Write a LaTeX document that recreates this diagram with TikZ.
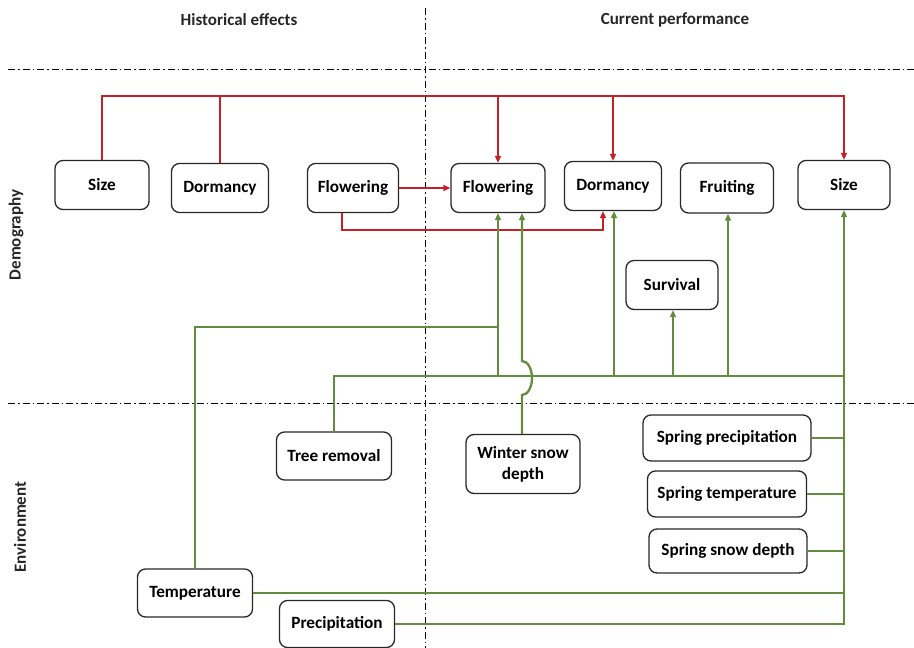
\documentclass[tikz,border=0pt]{standalone}
\usepackage{fontspec}
\setmainfont{Carlito}
\usetikzlibrary{arrows.meta,calc}
\definecolor{rline}{RGB}{196,32,38}
\definecolor{gline}{RGB}{100,140,62}
\definecolor{bord}{RGB}{40,40,40}
\tikzset{
  box/.style={draw=bord,line width=1.3pt,rounded corners=8pt,align=center,font=\bfseries\fontsize{17.2}{21}\selectfont,inner sep=2pt},
  hdr/.style={font=\bfseries\fontsize{17}{19}\selectfont,text=black!85},
  rl/.style={draw=rline,line width=2.6pt},
  gl/.style={draw=gline,line width=2.3pt},
  rarr/.style={rl,-{Triangle[length=7pt,width=6pt]}},
  garr/.style={gl,-{Triangle[length=7pt,width=6pt]}},
  dd/.style={line width=1pt,dash pattern=on 7pt off 3pt on 1.5pt off 3pt},
}
\begin{document}
\begin{tikzpicture}[x=1pt,y=-1pt]
\useasboundingbox (0,0) rectangle (914,648);
% guide lines
\draw[dd] (425,8) -- (425,648);
\draw[dd] (8,69) -- (914,69);
\draw[dd] (8,403) -- (914,403);
% headers
\node[hdr] (hh) at (239,20) {Historical effects};
\node[hdr] (hc) at (675,20) {Current performance};
\node[hdr,rotate=90] (hd) at (16,235) {Demography};
\node[hdr,rotate=90] (he) at (20,527) {Environment};
% demography nodes
\node[box,minimum width=94pt,minimum height=49pt] (sizeL) at (102,185) {Size};
\node[box,minimum width=97pt,minimum height=49pt] (dormL) at (220,188) {Dormancy};
\node[box,minimum width=91pt,minimum height=49pt] (flowL) at (353,188) {Flowering};
\node[box,minimum width=94pt,minimum height=49pt] (flowR) at (498,188) {Flowering};
\node[box,minimum width=97pt,minimum height=49pt] (dormR) at (613,186) {Dormancy};
\node[box,minimum width=93pt,minimum height=50pt] (fruit) at (727,188) {Fruiting};
\node[box,minimum width=92pt,minimum height=49pt] (sizeR) at (844,185) {Size};
\node[box,minimum width=92pt,minimum height=49pt] (surv) at (672,285) {Survival};
% environment nodes
\node[box,minimum width=115pt,minimum height=48pt] (tree) at (334,456) {Tree removal};
\node[box,minimum width=114pt,minimum height=59pt] (snow) at (523,464) {Winter snow\\depth};
\node[box,minimum width=168pt,minimum height=46pt] (sprP) at (727,438) {Spring precipitation};
\node[box,minimum width=159pt,minimum height=46pt] (sprT) at (727,494) {Spring temperature};
\node[box,minimum width=158pt,minimum height=44pt] (sprS) at (728,551) {Spring snow depth};
\node[box,minimum width=115pt,minimum height=48pt] (temp) at (195,593) {Temperature};
\node[box,minimum width=115pt,minimum height=47pt] (prec) at (337,624) {Precipitation};
% helper rows
\coordinate (rbus) at (0,96);
\coordinate (rlow) at (0,230);
\coordinate (gbus) at (0,376);
\coordinate (tline) at (0,327);
\coordinate (jlo) at (0,395);
% red connectors
\draw[rarr] (sizeL.north) -- (sizeL.north |- rbus) -| (sizeR.north);
\draw[rl] (dormL.north) -- (dormL.north |- rbus);
\draw[rarr] (flowR.north |- rbus) -- (flowR.north);
\draw[rarr] (dormR.north |- rbus) -- (dormR.north);
\draw[rarr] (flowL.east) -- (flowR.west);
\draw[rarr] ([xshift=-11pt]flowL.south) -- ([xshift=-11pt]flowL.south |- rlow) -| ([xshift=-10pt]dormR.south);
% green connectors
\draw[gl] (tree.north) -- (tree.north |- gbus) -- (sizeR.south |- gbus);
\draw[gl] (temp.north) -- (temp.north |- tline) -- (flowR.south |- tline);
\draw[garr] (flowR.south |- gbus) -- (flowR.south);
\draw[garr] ([xshift=1pt]dormR.south |- gbus) -- ([xshift=1pt]dormR.south);
\draw[garr] ([xshift=1pt]surv.south |- gbus) -- ([xshift=1pt]surv.south);
\draw[garr] ([xshift=1pt]fruit.south |- gbus) -- ([xshift=1pt]fruit.south);
\draw[garr] ([xshift=-1pt]snow.north) -- ([xshift=-1pt]snow.north |- jlo)
  arc[start angle=-90,end angle=90,x radius=10pt,y radius=17pt]
  -- ([xshift=-1pt]snow.north |- flowR.south);
\draw[gl] (sprP.east) -- (sprP.east -| sizeR.south);
\draw[gl] (sprT.east) -- (sprT.east -| sizeR.south);
\draw[gl] (sprS.east) -- (sprS.east -| sizeR.south);
\draw[gl] (temp.east) -- (temp.east -| sizeR.south);
\draw[garr] (prec.east) -| (sizeR.south);
\end{tikzpicture}
\end{document}
